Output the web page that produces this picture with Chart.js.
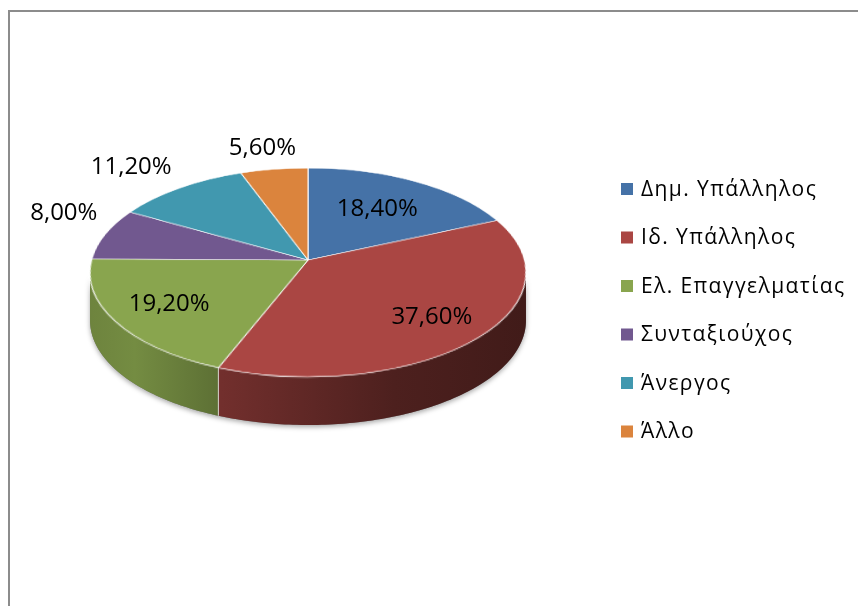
<!DOCTYPE html>
<html>
<head>
<meta charset="utf-8">
<script src="https://cdn.jsdelivr.net/npm/chart.js@4.4.1/dist/chart.umd.min.js"></script>
<style>
  html, body { margin: 0; padding: 0; background: #fff; }
</style>
</head>
<body>
<canvas id="pieChart" width="858" height="606"></canvas>
<script>
// Values (percent of answers)
const categories = ["Δημ. Υπάλληλος", "Ιδ. Υπάλληλος", "Ελ. Επαγγελματίας", "Συνταξιούχος", "Άνεργος", "Άλλο"];
const shares = [18.4, 37.6, 19.2, 8.0, 11.2, 5.6];
const sliceColors = ["#4572A7", "#AA4643", "#89A54E", "#71588F", "#4198AF", "#DB843D"];
const labelOutside = [false, false, false, true, true, true];

// tilted pie: screen centre, half sizes, perspective and wall height
const pieX = 308, pieY = 260, halfW = 216.4, halfH = 103, tilt = -0.1196, depth = 48;

const pct = v => v.toFixed(2).replace('.', ',') + '%';

// point (u, v) of the unit disc -> page
function project(u, v) {
    const w = 1 + tilt * v;
    return [pieX + halfW * u / w, pieY + halfH * v / w];
}

function shade(hex, f) {
    const n = parseInt(hex.slice(1), 16);
    const r = Math.round(((n >> 16) & 255) * f);
    const g = Math.round(((n >> 8) & 255) * f);
    const b = Math.round((n & 255) * f);
    return `rgb(${r},${g},${b})`;
}

// front wall path between angles a1..a2
function wallPath(ctx, a1, a2) {
    const steps = Math.max(4, Math.ceil((a2 - a1) * 60));
    ctx.beginPath();
    for (let k = 0; k <= steps; k++) {
        const a = a1 + (a2 - a1) * k / steps;
        const [x, y] = project(Math.cos(a), Math.sin(a));
        k === 0 ? ctx.moveTo(x, y) : ctx.lineTo(x, y);
    }
    for (let k = steps; k >= 0; k--) {
        const a = a1 + (a2 - a1) * k / steps;
        const [x, y] = project(Math.cos(a), Math.sin(a));
        ctx.lineTo(x, y + depth);
    }
    ctx.closePath();
}

const tiltPlugin = {
    id: 'tilt',
    beforeDraw(chart) {
        const ctx = chart.ctx;
        ctx.save();
        ctx.fillStyle = '#8c8c8c';
        ctx.fillRect(8, 10, chart.width, 2);
        ctx.fillRect(8, 10, 2, chart.height);
        ctx.restore();
    },
    beforeDatasetsDraw(chart) {
        const ctx = chart.ctx;
        const arcs = chart.getDatasetMeta(0).data;
        const W = chart.width, H = chart.height;

        // visible part of the wall (silhouette to silhouette)
        const front1 = Math.asin(-tilt), front2 = Math.PI - front1;

        // soft shadow under the wall
        ctx.save();
        ctx.shadowColor = 'rgba(0,0,0,0.35)';
        ctx.shadowBlur = 5;
        ctx.shadowOffsetY = 2;
        ctx.fillStyle = '#777';
        wallPath(ctx, front1, front2);
        ctx.fill();
        ctx.restore();

        arcs.forEach((arc, i) => {
            const a1 = Math.max(arc.startAngle, front1);
            const a2 = Math.min(arc.endAngle, front2);
            if (a2 <= a1) return;
            const g = ctx.createLinearGradient(pieX - halfW, 0, pieX + halfW, 0);
            g.addColorStop(0, shade(sliceColors[i], 0.8));
            g.addColorStop(0.1, shade(sliceColors[i], 0.85));
            g.addColorStop(0.3, shade(sliceColors[i], 0.67));
            g.addColorStop(0.7, shade(sliceColors[i], 0.45));
            g.addColorStop(1, shade(sliceColors[i], 0.38));
            wallPath(ctx, a1, a2);
            ctx.fillStyle = g;
            ctx.fill();
        });
        ctx.save();
        ctx.strokeStyle = 'rgba(255,255,255,0.75)';
        ctx.lineWidth = 1;
        arcs.forEach(arc => {
            const a = arc.endAngle;
            if (a > front1 && a < front2) {
                const [x, y] = project(Math.cos(a), Math.sin(a));
                ctx.beginPath();
                ctx.moveTo(x, y);
                ctx.lineTo(x, y + depth);
                ctx.stroke();
            }
        });
        ctx.restore();

        // top face: let the arcs draw as a flat ellipse off screen, then warp rows for perspective
        const off = document.createElement('canvas');
        off.width = W;
        off.height = H;
        const octx = off.getContext('2d');
        const oy = H / 2;
        const cx = arcs[0].x, cy = arcs[0].y, R = arcs[0].outerRadius;
        octx.translate(pieX, oy);
        octx.scale(halfW / R, halfH / R);
        octx.translate(-cx, -cy);
        arcs.forEach(a => a.draw(octx));

        const vAt = y => { const t = (y - pieY) / halfH; return t / (1 - tilt * t); };
        const top = Math.floor(project(0, -1)[1]) - 1, bottom = Math.ceil(project(0, 1)[1]) + 1;
        for (let y = top; y <= bottom; y++) {
            const v = vAt(y + 0.5);
            if (Math.abs(v) > 1.03) continue;
            const w = 1 + tilt * v;
            const sh = Math.max(0.5, (vAt(y + 1) - vAt(y)) * halfH);
            ctx.drawImage(off, 0, oy + v * halfH - sh / 2, W, sh, pieX - pieX / w, y, W / w, 1);
        }
        return false;
    },
    afterDraw(chart) {
        const ctx = chart.ctx;
        const arcs = chart.getDatasetMeta(0).data;
        ctx.save();
        ctx.fillStyle = '#000';
        ctx.textAlign = 'center';
        ctx.textBaseline = 'middle';
        ctx.font = '24px "Open Sans"';
        arcs.forEach((arc, i) => {
            const mid = (arc.startAngle + arc.endAngle) / 2;
            const c = Math.cos(mid), s = Math.sin(mid);
            const text = pct(shares[i]);
            let x, y;
            if (labelOutside[i]) {
                const w = ctx.measureText(text).width;
                const [px, py] = project(c, s);
                const t = Math.max(-1, Math.min(1, 1.6 * c));
                x = px + t * (w / 2 + 8);
                y = s < 0 ? py - 21 : py + depth + 21;
            } else {
                const f = 0.69 + 0.08 * s;
                [x, y] = project(c * f, s * f);
            }
            ctx.fillText(text, x, y);
        });

        // legend
        ctx.textAlign = 'left';
        ctx.font = '21px "Open Sans"';
        ctx.letterSpacing = '1.4px';
        categories.forEach((name, i) => {
            const y = 189 + i * 48.5;
            ctx.fillStyle = sliceColors[i];
            ctx.fillRect(621, y - 6, 12, 12);
            ctx.fillStyle = '#000';
            ctx.fillText(name, 641, y + 1);
        });
        ctx.restore();
    }
};

new Chart(document.getElementById('pieChart'), {
    type: 'pie',
    data: {
        labels: categories,
        datasets: [{
            data: shares,
            backgroundColor: sliceColors,
            borderColor: '#ffffff',
            borderWidth: 1.5
        }]
    },
    options: {
        responsive: false,
        animation: false,
        plugins: {
            legend: { display: false },
            tooltip: { enabled: false }
        }
    },
    plugins: [tiltPlugin]
});
</script>
</body>
</html>
